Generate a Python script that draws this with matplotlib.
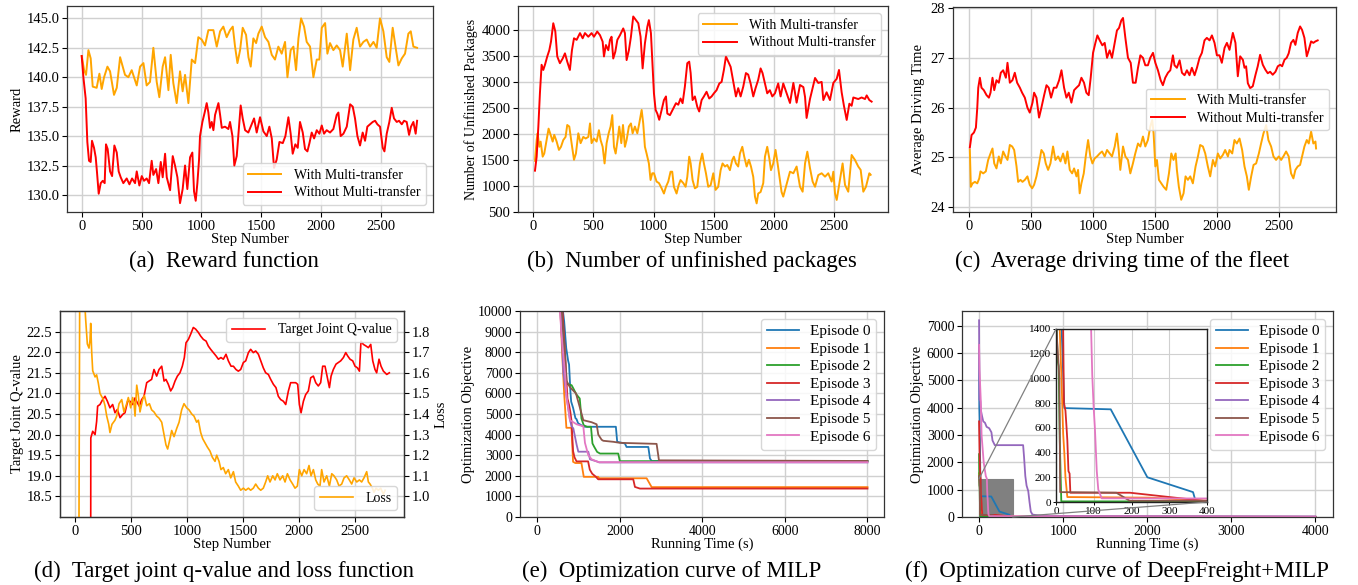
import numpy as np
import matplotlib
matplotlib.use("Agg")
import matplotlib.pyplot as plt
from matplotlib.patches import Rectangle, ConnectionPatch

plt.rcParams['font.family'] = ['Liberation Serif', 'DejaVu Serif']

# ---------------- data ----------------
# (a) reward: (step, reward)
A_WITH = [(0,141.8),(20,140.6),(36,140.2),(56,142.3),(75,141.6),(92,139.2),(125,139.1),(148,140.3),(167,139.0),(187,140.0),(215,140.9),(237,140.5),(270,138.5),(293,139.1),(321,141.7),(362,140.2),(390,140.0),(418,140.6),(460,139.3),(488,140.9),(516,141.2),(543,139.3),(571,139.6),(599,142.5),(627,139.6),(649,138.3),(677,140.9),(697,141.7),(725,138.9),(744,141.9),(766,139.5),(794,137.8),(822,140.5),(844,138.8),(864,140.2),(892,137.8),(920,141.5),(948,141.2),(975,143.4),(1003,143.2),(1031,142.7),(1059,144.0),(1101,144.0),(1129,142.6),(1157,143.9),(1184,144.3),(1212,143.4),(1240,144.0),(1263,144.3),(1282,142.6),(1302,141.2),(1324,142.3),(1346,144.2),(1374,143.6),(1394,141.7),(1413,140.9),(1435,143.3),(1458,142.9),(1477,143.7),(1505,144.3),(1533,143.4),(1561,143.0),(1589,141.9),(1616,141.5),(1644,142.6),(1672,142.0),(1700,143.0),(1720,140.0),(1747,142.3),(1770,142.6),(1792,140.6),(1812,143.3),(1834,145.0),(1859,144.3),(1881,143.0),(1909,142.6),(1937,140.0),(1965,141.5),(1987,141.5),(2007,144.2),(2035,144.6),(2054,142.0),(2076,142.9),(2104,142.3),(2132,142.7),(2160,142.3),(2182,140.9),(2216,143.7),(2244,140.6),(2271,143.2),(2299,144.2),(2327,142.6),(2355,143.0),(2383,143.2),(2411,142.6),(2439,143.0),(2466,142.5),(2494,145.0),(2522,143.9),(2550,141.7),(2572,141.3),(2600,144.2),(2628,142.3),(2648,141.0),(2676,141.6),(2703,142.0),(2731,143.7),(2751,143.9),(2773,142.6),(2804,142.5)]
A_WITHOUT = [(0,141.8),(14,140.0),(33,138.2),(47,134.5),(61,132.9),(75,132.8),(86,134.6),(103,134.0),(117,133.2),(128,131.9),(142,130.1),(159,131.0),(176,131.2),(192,131.0),(203,134.3),(217,133.9),(237,132.0),(254,131.6),(273,134.2),(293,133.6),(309,132.0),(326,131.5),(348,131.0),(376,131.4),(399,130.9),(421,131.4),(446,131.0),(460,132.0),(482,130.8),(502,131.6),(521,131.2),(543,131.4),(563,131.0),(585,132.9),(599,131.7),(622,132.2),(641,131.0),(661,132.8),(677,131.5),(697,133.5),(711,131.5),(739,130.4),(761,133.3),(780,132.5),(800,131.5),(822,129.3),(844,130.5),(864,132.5),(883,130.5),(906,133.2),(925,133.6),(939,130.3),(953,129.5),(967,131.0),(981,133.0),(989,135.0),(1009,136.2),(1028,137.0),(1045,137.8),(1059,137.0),(1073,135.7),(1087,136.2),(1101,135.5),(1115,136.8),(1129,137.3),(1143,137.8),(1157,136.8),(1171,135.7),(1198,135.8),(1226,135.6),(1240,136.2),(1260,135.0),(1276,132.5),(1296,133.3),(1313,135.5),(1329,137.6),(1346,136.5),(1366,135.5),(1393,135.3),(1421,136.0),(1441,136.5),(1463,135.3),(1491,136.6),(1519,135.4),(1547,135.0),(1569,135.8),(1589,134.8),(1608,132.3),(1630,133.0),(1653,134.5),(1681,134.4),(1703,135.0),(1728,136.6),(1747,135.2),(1764,133.5),(1786,134.3),(1806,134.0),(1825,136.2),(1848,135.3),(1867,133.9),(1887,133.7),(1904,134.4),(1923,135.3),(1943,134.8),(1965,135.5),(1987,135.2),(2007,135.9),(2026,135.2),(2048,135.5),(2076,135.3),(2104,135.6),(2132,136.8),(2146,137.0),(2165,135.0),(2188,135.2),(2216,135.8),(2244,137.7),(2266,137.5),(2285,136.5),(2305,135.0),(2327,134.2),(2349,135.3),(2369,134.6),(2388,135.8),(2411,136.0),(2433,136.2),(2453,136.3),(2472,136.0),(2494,135.8),(2517,134.0),(2531,133.7),(2550,135.2),(2572,136.2),(2592,137.4),(2611,136.5),(2634,136.2),(2653,136.3),(2676,136.0),(2695,136.3),(2717,136.2),(2737,135.1),(2753,135.8),(2773,136.2),(2792,135.2),(2804,136.3)]

# (b) unfinished packages
B_WITH = [(14,1480),(28,1880),(36,2010),(50,1750),(61,1850),(78,1560),(91,1620),(111,1880),(127,2100),(144,1980),(161,1850),(174,1980),(194,1850),(213,1690),(230,1750),(249,1880),(268,1940),(282,2170),(299,2140),(318,1820),(338,1500),(354,1620),(374,2010),(393,1820),(415,1940),(435,1910),(457,1940),(471,2200),(484,1820),(504,1910),(526,1850),(545,2070),(559,1880),(576,1750),(592,1430),(609,1820),(626,2010),(642,2140),(656,2360),(670,1750),(684,1620),(700,1880),(714,2140),(731,1820),(745,2170),(761,1750),(775,1880),(794,2140),(811,2200),(825,2010),(844,2140),(864,2010),(880,2200),(900,2460),(913,2200),(927,1750),(941,1620),(960,1430),(974,1110),(988,1240),(1002,1240),(1024,1080),(1044,1050),(1066,950),(1085,850),(1102,980),(1121,1080),(1140,1270),(1154,1270),(1168,980),(1190,850),(1207,1010),(1223,1110),(1246,1050),(1265,980),(1279,1170),(1295,1560),(1307,1430),(1323,1110),(1342,950),(1362,980),(1384,1430),(1403,1620),(1417,1430),(1434,1240),(1453,980),(1473,1010),(1495,1240),(1514,920),(1536,980),(1556,1300),(1572,1430),(1592,1370),(1611,1400),(1633,1300),(1653,1500),(1666,1560),(1683,1430),(1702,1370),(1716,1620),(1736,1750),(1752,1560),(1772,1370),(1791,1500),(1808,1370),(1827,1170),(1841,790),(1855,660),(1868,850),(1888,880),(1910,1050),(1924,1560),(1943,1750),(1960,1530),(1974,1300),(1993,1430),(2012,1690),(2029,1430),(2048,1110),(2062,880),(2076,790),(2132,1271),(2160,1240),(2187,1370),(2215,982),(2237,885),(2257,1430),(2276,1656),(2298,1340),(2320,1080),(2340,980),(2367,1205),(2395,1240),(2423,1175),(2450,1240),(2478,1080),(2492,1270),(2506,850),(2520,726),(2547,1110),(2569,1430),(2589,1015),(2616,885),(2644,1592),(2672,1495),(2699,1370),(2719,1305),(2741,885),(2763,980),(2791,1240),(2802,1210)]
B_WITHOUT = [(14,1290),(28,1560),(42,2140),(55,2780),(69,3330),(83,3230),(97,3330),(116,3490),(133,3610),(147,3775),(166,4130),(183,3970),(199,3490),(221,3360),(244,3450),(263,3550),(282,3390),(304,3230),(321,3610),(338,3840),(360,3810),(388,3940),(410,3840),(429,3940),(457,3870),(484,3940),(504,3870),(531,3970),(554,3900),(576,3775),(587,3490),(603,3710),(623,3610),(637,3810),(650,3870),(664,3450),(681,3580),(698,3810),(720,3900),(734,3970),(747,4030),(761,3940),(775,3420),(794,3610),(811,3870),(830,4260),(853,4190),(872,4130),(891,3870),(908,3260),(927,3740),(947,4060),(960,4190),(977,3940),(991,3290),(1002,2780),(1016,2460),(1030,2390),(1046,2270),(1066,2460),(1085,2650),(1102,2720),(1113,2390),(1135,2360),(1163,2490),(1185,2590),(1204,2560),(1223,2680),(1240,2590),(1259,2910),(1279,3360),(1295,3390),(1307,3170),(1323,2650),(1342,2720),(1362,2520),(1378,2430),(1398,2650),(1417,2720),(1439,2810),(1461,2680),(1481,2720),(1500,2780),(1522,2840),(1545,2970),(1564,3000),(1583,3230),(1600,3490),(1619,3390),(1639,3290),(1661,3000),(1683,2720),(1702,2880),(1722,2720),(1744,2910),(1766,3170),(1785,3140),(1805,2970),(1827,2720),(1846,2880),(1868,3040),(1888,3260),(1904,3170),(1924,2970),(1943,2780),(1965,2840),(1985,2720),(2007,2780),(2034,2970),(2054,2720),(2076,2970),(2132,2594),(2160,2980),(2187,2600),(2215,2940),(2243,2900),(2257,2710),(2270,2305),(2298,2670),(2340,3076),(2367,2980),(2395,3000),(2409,2650),(2436,2800),(2464,2650),(2492,2980),(2520,3060),(2539,3230),(2561,2800),(2580,2540),(2603,2267),(2625,2580),(2644,2540),(2658,2700),(2699,2670),(2727,2700),(2755,2670),(2769,2740),(2791,2650),(2810,2620)]

# (c) average driving time
C_WITH = [(5,25.15),(13,24.41),(27,24.48),(46,24.51),(65,24.48),(81,24.58),(91,24.72),(113,24.68),(134,24.72),(153,24.95),(172,25.08),(188,25.18),(202,24.88),(220,24.78),(239,25.02),(255,24.88),(274,25.12),(293,25.02),(309,24.95),(328,25.25),(347,25.22),(363,25.15),(382,24.82),(395,24.51),(414,24.55),(430,24.51),(449,24.55),(470,24.62),(489,24.45),(508,24.38),(524,24.45),(543,24.62),(564,24.88),(583,25.15),(602,25.08),(618,24.88),(637,24.75),(656,24.88),(677,25.22),(696,24.95),(718,25.02),(737,24.92),(758,25.08),(777,24.88),(793,25.12),(812,24.75),(831,24.68),(847,24.78),(866,24.62),(879,24.75),(892,24.28),(906,24.48),(925,24.68),(941,25.02),(960,25.35),(978,25.02),(995,24.88),(1013,24.98),(1032,25.02),(1054,25.08),(1073,25.12),(1094,25.02),(1113,25.15),(1134,25.08),(1153,25.02),(1175,25.22),(1193,25.48),(1207,25.15),(1220,24.75),(1242,25.22),(1261,25.02),(1282,24.95),(1301,24.68),(1322,24.88),(1341,25.08),(1363,25.28),(1382,25.22),(1403,25.42),(1422,25.22),(1443,25.35),(1462,25.62),(1478,25.75),(1489,25.48),(1503,24.82),(1516,24.95),(1532,24.55),(1551,24.48),(1570,24.41),(1591,24.35),(1613,24.68),(1632,25.08),(1650,24.95),(1667,25.08),(1677,24.75),(1693,24.41),(1712,24.15),(1731,24.28),(1747,24.62),(1766,24.55),(1785,24.62),(1806,24.48),(1828,24.82),(1847,25.02),(1865,25.25),(1887,25.22),(1906,25.08),(1927,24.82),(1946,24.62),(1968,24.95),(1986,24.82),(2008,25.08),(2027,24.98),(2048,25.05),(2067,25.15),(2089,25.02),(2102,25.15),(2124,25.08),(2142,25.35),(2161,25.28),(2183,25.38),(2204,25.15),(2223,24.82),(2242,24.62),(2258,24.35),(2277,24.62),(2296,24.85),(2317,24.88),(2339,25.08),(2357,25.28),(2376,25.48),(2398,25.65),(2416,25.35),(2438,25.22),(2457,25.02),(2478,24.95),(2500,25.02),(2519,24.95),(2537,25.02),(2559,25.12),(2580,25.02),(2599,24.68),(2618,24.58),(2634,24.75),(2653,24.82),(2672,24.85),(2688,25.02),(2707,25.22),(2726,25.35),(2742,25.28),(2761,25.52),(2779,25.28),(2796,25.32),(2801,25.18)]
C_WITHOUT = [(5,25.2),(19,25.45),(38,25.5),(54,25.6),(65,26.0),(73,26.4),(86,26.6),(99,26.4),(118,26.35),(140,26.25),(159,26.2),(172,26.3),(188,26.6),(202,26.35),(220,26.55),(239,26.5),(255,26.7),(274,26.75),(296,26.6),(309,26.9),(328,26.5),(349,26.55),(368,26.7),(387,26.5),(409,26.4),(427,26.3),(449,26.2),(470,26.0),(489,25.9),(511,26.1),(524,26.3),(543,26.2),(564,25.8),(583,26.0),(605,26.25),(624,26.45),(642,26.4),(661,26.2),(683,26.4),(704,26.4),(726,26.55),(745,26.75),(766,26.4),(785,26.2),(804,26.3),(825,26.1),(847,26.35),(866,26.4),(887,26.45),(906,26.6),(927,26.5),(946,26.3),(965,26.25),(981,26.6),(1000,27.1),(1019,27.3),(1035,27.45),(1054,27.35),(1075,27.25),(1094,27.3),(1113,27.0),(1134,27.15),(1153,27.0),(1175,27.3),(1193,27.55),(1210,27.6),(1228,27.75),(1242,27.8),(1261,27.4),(1282,27.0),(1304,26.9),(1322,26.5),(1344,26.5),(1363,26.8),(1382,27.05),(1403,27.0),(1422,26.85),(1443,26.85),(1462,27.0),(1484,27.1),(1503,26.9),(1524,26.75),(1546,26.55),(1564,26.45),(1583,26.6),(1605,26.7),(1624,26.75),(1645,27.05),(1658,26.85),(1677,26.8),(1699,26.95),(1718,26.7),(1739,26.65),(1758,26.75),(1779,26.65),(1798,26.8),(1820,26.65),(1839,26.8),(1860,27.0),(1879,27.1),(1900,27.35),(1919,27.4),(1941,27.35),(1960,27.45),(1981,27.3),(2000,27.05),(2021,27.05),(2040,26.9),(2062,27.2),(2081,27.3),(2102,27.16),(2129,27.5),(2150,27.3),(2169,26.63),(2188,27.03),(2210,26.96),(2223,26.8),(2236,26.83),(2250,26.49),(2269,26.39),(2290,26.43),(2312,26.66),(2330,26.83),(2349,27.06),(2371,26.86),(2392,26.76),(2411,26.69),(2430,26.72),(2451,26.66),(2473,26.72),(2492,26.83),(2511,26.86),(2527,26.83),(2546,26.96),(2564,27.0),(2580,27.09),(2599,27.3),(2618,27.36),(2634,27.26),(2653,27.5),(2672,27.63),(2688,27.56),(2707,27.4),(2726,27.03),(2742,27.16),(2761,27.33),(2779,27.3),(2796,27.33),(2814,27.35)]

# (d) target joint Q-value (left axis) and loss (right axis)
D_QVALUE = [(140,17.0),(141,19.92),(158,20.08),(179,20.0),(193,20.32),(202,20.69),(223,20.73),(247,20.85),(268,20.93),(289,20.81),(312,20.65),(336,20.73),(357,20.53),(378,20.61),(402,20.41),(426,20.49),(446,20.53),(470,20.81),(491,20.81),(515,20.73),(536,20.89),(557,20.77),(574,20.69),(595,20.85),(616,20.93),(640,21.26),(661,21.3),(684,21.34),(705,21.58),(729,21.42),(750,21.58),(774,21.66),(795,21.3),(812,21.34),(833,21.22),(854,21.06),(872,21.14),(893,21.3),(914,21.42),(937,21.5),(958,21.66),(976,21.87),(991,22.23),(1012,22.31),(1033,22.44),(1056,22.6),(1077,22.56),(1101,22.48),(1122,22.39),(1146,22.31),(1170,22.27),(1190,22.15),(1211,22.07),(1235,21.99),(1259,21.91),(1280,21.83),(1303,21.87),(1324,21.83),(1348,21.95),(1369,21.79),(1393,21.66),(1414,21.66),(1437,21.58),(1458,21.54),(1479,21.58),(1503,21.75),(1524,21.79),(1548,21.99),(1568,22.07),(1592,21.99),(1613,22.03),(1637,21.95),(1658,21.79),(1681,21.62),(1702,21.5),(1726,21.46),(1747,21.34),(1771,21.22),(1794,21.14),(1815,20.93),(1836,20.85),(1860,20.81),(1881,20.73),(1905,21.06),(1925,21.26),(1949,21.26),(1970,21.26),(1988,21.22),(2003,20.73),(2018,20.53),(2039,20.81),(2059,20.97),(2083,21.06),(2104,21.38),(2128,21.42),(2149,21.26),(2172,21.18),(2193,21.26),(2211,21.66),(2232,21.66),(2253,21.38),(2271,21.14),(2286,21.42),(2306,21.58),(2330,21.71),(2351,21.75),(2372,21.79),(2396,21.87),(2417,21.99),(2434,21.91),(2455,21.83),(2479,21.79),(2500,21.66),(2521,21.62),(2539,21.54),(2553,22.27),(2574,22.19),(2598,22.15),(2619,22.11),(2640,22.19),(2658,21.79),(2678,21.58),(2693,21.5),(2714,21.83),(2732,21.66),(2753,21.54),(2783,21.46),(2806,21.5)]
D_LOSS = [(35,0.8),(42,2.0),(80,2.0),(95,1.86),(110,1.74),(125,1.72),(134,1.76),(140,1.84),(149,1.70),(158,1.61),(179,1.58),(193,1.59),(208,1.55),(223,1.50),(253,1.47),(268,1.44),(283,1.39),(301,1.35),(312,1.31),(330,1.35),(357,1.37),(372,1.39),(393,1.45),(417,1.47),(437,1.41),(461,1.45),(476,1.48),(497,1.43),(515,1.48),(527,1.45),(536,1.39),(551,1.54),(565,1.49),(580,1.41),(604,1.47),(619,1.49),(640,1.44),(664,1.45),(684,1.42),(705,1.41),(729,1.39),(750,1.38),(774,1.36),(795,1.30),(812,1.25),(827,1.23),(848,1.28),(863,1.32),(884,1.29),(908,1.33),(929,1.36),(952,1.42),(973,1.45),(997,1.43),(1018,1.42),(1042,1.40),(1062,1.39),(1086,1.36),(1101,1.37),(1122,1.31),(1140,1.28),(1161,1.26),(1181,1.24),(1205,1.22),(1226,1.19),(1250,1.17),(1265,1.20),(1286,1.17),(1303,1.13),(1324,1.14),(1345,1.11),(1369,1.13),(1390,1.09),(1414,1.12),(1434,1.07),(1458,1.05),(1479,1.03),(1503,1.04),(1524,1.03),(1548,1.04),(1568,1.03),(1592,1.04),(1613,1.06),(1637,1.04),(1658,1.03),(1681,1.04),(1702,1.07),(1720,1.10),(1741,1.07),(1765,1.10),(1786,1.08),(1806,1.11),(1830,1.08),(1854,1.10),(1875,1.07),(1896,1.11),(1920,1.08),(1943,1.06),(1964,1.04),(1985,1.05),(2003,1.13),(2024,1.10),(2045,1.13),(2068,1.11),(2089,1.15),(2107,1.10),(2128,1.13),(2149,1.08),(2167,1.06),(2187,1.05),(2202,1.13),(2223,1.07),(2247,1.10),(2271,1.05),(2292,1.11),(2312,1.10),(2336,1.08),(2357,1.05),(2381,1.06),(2402,1.09),(2425,1.10),(2449,1.08),(2470,1.06),(2491,1.09),(2515,1.07),(2539,1.08),(2559,1.07),(2580,1.09),(2604,1.12),(2619,1.07),(2634,1.06),(2655,1.04),(2669,1.02),(2687,1.04),(2708,1.03),(2729,1.04),(2753,1.01),(2768,1.03)]

# (e) MILP optimisation curves: (running time s, objective)
EPISODES = ['Episode 0', 'Episode 1', 'Episode 2', 'Episode 3', 'Episode 4', 'Episode 5', 'Episode 6']
E_CURVES = [
    [(560,11000),(650,9500),(700,8200),(745,7600),(769,7400),(801,6100),(820,5600),(866,5300),(923,4800),(950,4750),(988,4550),(1069,4450),(1150,4380),(1903,4380),(1935,3650),(2121,3570),(2162,3400),(2689,3400),(2729,2840),(2770,2720),(8000,2720)],
    [(540,11000),(600,8000),(650,6000),(663,5590),(704,4330),(826,4330),(866,2680),(920,2620),(1069,2620),(1125,1950),(1474,1950),(1500,1880),(2648,1880),(2770,1450),(8000,1450)],
    [(550,11000),(620,8500),(680,6800),(720,6450),(830,6400),(870,6250),(947,5950),(1028,5750),(1069,4780),(1125,4450),(1206,4380),(1300,4380),(1336,3570),(1380,3400),(1449,3160),(1520,3080),(1960,3080),(2000,2710),(8000,2710)],
    [(580,11000),(640,9000),(690,7200),(730,5750),(770,5430),(800,5100),(826,4700),(866,3200),(900,2900),(950,2700),(1230,2700),(1271,2300),(1330,2100),(1420,1950),(1474,1830),(2324,1830),(2365,1460),(2486,1380),(8000,1380)],
    [(530,11000),(600,8500),(630,7000),(710,5800),(791,4700),(832,4400),(872,4300),(953,3500),(993,3170),(1235,3170),(1276,2800),(1437,2700),(1500,2650),(8000,2650)],
    [(560,11000),(630,9000),(670,8000),(710,6600),(791,6300),(936,6000),(1074,5000),(1114,4700),(1316,4600),(1437,4500),(1477,4000),(1558,3750),(1598,3700),(1841,3650),(2002,3600),(2890,3550),(2947,2750),(8000,2720)],
    [(520,11000),(580,9000),(670,7000),(710,5800),(791,4700),(953,4500),(1114,4400),(1154,3600),(1235,3000),(1316,2800),(1437,2700),(1500,2660),(8000,2660)],
]

# (f) DeepFreight+MILP optimisation curves
F_CURVES = [
    [(0,6300),(3,4000),(8,3300),(15,1400),(22,760),(145,750),(242,200),(363,80),(370,5),(4000,5)],
    [(0,1600),(5,1450),(10,1400),(12,1200),(14,1050),(19,550),(22,400),(25,200),(30,40),(250,35),(400,10),(4000,5)],
    [(0,2300),(2,1400),(4,1150),(7,1100),(10,500),(14,5),(4000,3)],
    [(0,3500),(5,2500),(10,1800),(19,1400),(21,800),(25,740),(28,600),(30,500),(33,250),(36,230),(38,75),(196,75),(390,10),(4000,5)],
    [(0,7200),(4,4300),(15,4250),(22,3900),(35,3700),(50,3500),(70,3450),(90,3300),(120,3250),(147,3100),(160,2800),(187,2630),(524,2630),(535,2200),(550,1500),(565,1150),(585,950),(600,550),(615,200),(635,90),(700,60),(780,40),(4000,20)],
    [(0,1500),(3,1300),(5,1200),(7,1100),(9,1000),(11,80),(160,75),(195,10),(4000,5)],
    [(0,6300),(5,5400),(20,4300),(30,3000),(55,2000),(80,1500),(93,1400),(96,1030),(100,750),(103,600),(108,250),(112,100),(121,30),(4000,10)],
]
ZOOM_X = (0, 400)
ZOOM_Y = (0, 1400)

LEG_WITH = 'With Multi-transfer'
LEG_WITHOUT = 'Without Multi-transfer'
CAPTIONS = ['(a)  Reward function', '(b)  Number of unfinished packages',
            '(c)  Average driving time of the fleet',
            '(d)  Target joint q-value and loss function',
            '(e)  Optimization curve of MILP',
            '(f)  Optimization curve of DeepFreight+MILP']

# ---------------- style ----------------
W, H = 1358, 585
fig = plt.figure(figsize=(W / 100, H / 100), dpi=100)
ORANGE = '#FFA500'
RED = '#FF0000'
GRID = '#d0d0d0'
TAB = plt.get_cmap('tab10').colors


def box(x0, y0, x1, y1):
    return [x0 / W, 1 - y1 / H, (x1 - x0) / W, (y1 - y0) / H]


def style(ax, fs=10.5):
    ax.grid(True, color=GRID, lw=1.0)
    ax.set_axisbelow(True)
    ax.tick_params(labelsize=fs, length=3.5, width=0.8, pad=2)
    for s in ax.spines.values():
        s.set_color('#333333')
        s.set_linewidth(0.9)


def xy(pairs):
    a = np.array(pairs, dtype=float)
    return a[:, 0], a[:, 1]


LEGKW = dict(fontsize=10, framealpha=0.85, edgecolor='#d0d0d0', handlelength=2.4,
             handletextpad=0.9, labelspacing=0.35, borderpad=0.4)

# (a)
ax = fig.add_axes(box(67, 6, 433, 212))
style(ax)
ax.plot(*xy(A_WITH), color=ORANGE, lw=1.4, label=LEG_WITH)
ax.plot(*xy(A_WITHOUT), color=RED, lw=1.4, label=LEG_WITHOUT)
ax.set_xlim(-123, 2937)
ax.set_ylim(128.55, 146.05)
ax.set_xticks([0, 500, 1000, 1500, 2000, 2500])
ax.set_yticks([130.0, 132.5, 135.0, 137.5, 140.0, 142.5, 145.0])
ax.yaxis.set_major_formatter(matplotlib.ticker.FormatStrFormatter('%.1f'))
ax.set_xlabel('Step Number', fontsize=10.5, labelpad=0)
ax.set_ylabel('Reward', fontsize=10.5, labelpad=2)
ax.legend(loc='lower right', **LEGKW)

# (b)
ax = fig.add_axes(box(518, 6, 888, 212))
style(ax)
ax.plot(*xy(B_WITH), color=ORANGE, lw=1.4, label=LEG_WITH)
ax.plot(*xy(B_WITHOUT), color=RED, lw=1.4, label=LEG_WITHOUT)
ax.set_xlim(-127, 2946)
ax.set_ylim(494, 4462)
ax.set_xticks([0, 500, 1000, 1500, 2000, 2500])
ax.set_yticks(np.arange(500, 4001, 500))
ax.set_xlabel('Step Number', fontsize=10.5, labelpad=0)
ax.set_ylabel('Number of Unfinished Packages', fontsize=10, labelpad=2)
ax.legend(loc='upper right', **LEGKW)

# (c)
ax = fig.add_axes(box(953, 7, 1336, 212))
style(ax)
ax.plot(*xy(C_WITH), color=ORANGE, lw=1.4, label=LEG_WITH)
ax.plot(*xy(C_WITHOUT), color=RED, lw=1.4, label=LEG_WITHOUT)
ax.set_xlim(-131, 2962)
ax.set_ylim(23.905, 28.02)
ax.set_xticks([0, 500, 1000, 1500, 2000, 2500])
ax.set_yticks([24, 25, 26, 27, 28])
ax.set_xlabel('Step Number', fontsize=10.5, labelpad=0)
ax.set_ylabel('Average Driving Time', fontsize=10.5, labelpad=4)
ax.legend(loc='center right', **LEGKW)

# (d)
ax = fig.add_axes(box(60, 311, 404, 517))
style(ax)
ax.plot(*xy(D_QVALUE), color=RED, lw=1.2, label='Target Joint Q-value')
ax.set_xlim(-134, 2937)
ax.set_ylim(18.0, 23.0)
ax.set_xticks([0, 500, 1000, 1500, 2000, 2500])
ax.set_yticks(np.arange(18.5, 22.51, 0.5))
ax.set_xlabel('Step Number', fontsize=10.5, labelpad=0)
ax.set_ylabel('Target Joint Q-value', fontsize=10.5, labelpad=2)
ax.legend(loc='upper right', **LEGKW)
ax2 = ax.twinx()
ax2.plot(*xy(D_LOSS), color=ORANGE, lw=1.2, label='Loss')
ax2.set_ylim(0.9, 1.9)
ax2.set_yticks(np.arange(1.0, 1.81, 0.1))
ax2.yaxis.set_major_formatter(matplotlib.ticker.FormatStrFormatter('%.1f'))
ax2.tick_params(labelsize=10.5, length=3.5, width=0.8, pad=2)
for s in ax2.spines.values():
    s.set_color('#333333')
    s.set_linewidth(0.9)
ax2.set_ylabel('Loss', fontsize=10.5, labelpad=3)
ax2.legend(loc='lower right', **LEGKW)

LEGKW2 = dict(fontsize=11, framealpha=0.85, edgecolor='#d0d0d0', handlelength=2.1,
              labelspacing=0.25, borderpad=0.4, handletextpad=0.7)

# (e)
ax = fig.add_axes(box(520, 311, 884, 517))
style(ax, 10)
for i, (name, c) in enumerate(zip(EPISODES, E_CURVES)):
    ax.plot(*xy(c), color=TAB[i], lw=1.3, label=name)
ax.set_xlim(-420, 8400)
ax.set_ylim(0, 10000)
ax.set_xticks([0, 2000, 4000, 6000, 8000])
ax.set_yticks(np.arange(0, 10001, 1000))
ax.set_xlabel('Running Time (s)', fontsize=10.5, labelpad=0)
ax.set_ylabel('Optimization Objective', fontsize=10.5, labelpad=2)
ax.legend(loc='upper right', **LEGKW2)

# (f)
ax = fig.add_axes(box(962, 311, 1333, 517))
style(ax, 10)
ax.add_patch(Rectangle((ZOOM_X[0], ZOOM_Y[0]), ZOOM_X[1] - ZOOM_X[0], ZOOM_Y[1] - ZOOM_Y[0],
                       facecolor='#808080', edgecolor='#808080', lw=0.8, zorder=1.5))
for i, (name, c) in enumerate(zip(EPISODES, F_CURVES)):
    ax.plot(*xy(c), color=TAB[i], lw=1.3, label=name)
ax.set_xlim(-203, 4210)
ax.set_ylim(0, 7540)
ax.set_xticks([0, 1000, 2000, 3000, 4000])
ax.set_yticks(np.arange(0, 7001, 1000))
ax.set_xlabel('Running Time (s)', fontsize=10.5, labelpad=0)
ax.set_ylabel('Optimization Objective', fontsize=10.5, labelpad=2)
ax.legend(loc='upper right', **LEGKW2)

axi = fig.add_axes(box(1056, 329, 1207, 502))
axi.grid(True, color=GRID, lw=0.8)
axi.set_axisbelow(True)
for i, c in enumerate(F_CURVES):
    axi.plot(*xy(c), color=TAB[i], lw=1.3)
axi.set_xlim(*ZOOM_X)
axi.set_ylim(*ZOOM_Y)
axi.set_xticks([0, 100, 200, 300, 400])
axi.set_yticks(np.arange(0, 1401, 200))
axi.tick_params(labelsize=8, length=2.5, width=0.7, pad=1)
for s in axi.spines.values():
    s.set_color('#222222')
    s.set_linewidth(1.0)
for pa, pb in [((ZOOM_X[0], ZOOM_Y[1]), (ZOOM_X[0], ZOOM_Y[1])),
               ((ZOOM_X[1], ZOOM_Y[0]), (ZOOM_X[1], ZOOM_Y[0]))]:
    con = ConnectionPatch(xyA=pa, coordsA=ax.transData, xyB=pb, coordsB=axi.transData,
                          color='#808080', lw=0.9)
    fig.add_artist(con)

# captions
for (cx, cy), t in zip([(224, 261), (692, 261), (1122, 261), (224, 571), (672, 571), (1117, 571)], CAPTIONS):
    fig.text(cx / W, 1 - cy / H, t, ha='center', va='center', fontsize=16.5)

fig.savefig('out.png', dpi=100)
